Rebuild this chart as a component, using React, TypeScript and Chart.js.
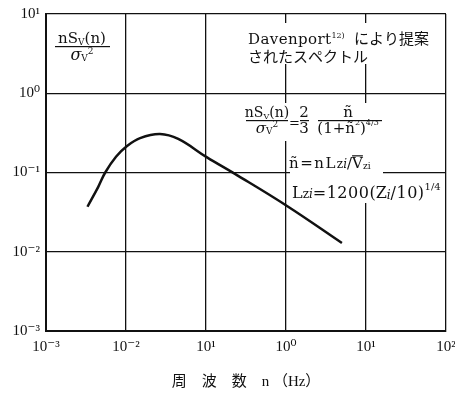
import React, { useEffect, useRef } from "react";
import { Chart, registerables } from "chart.js";

Chart.register(...registerables);

const freqHz = [0.0033, 0.0045, 0.0055, 0.0075, 0.0103, 0.015, 0.0266, 0.045, 0.103, 0.23, 1.03, 5.0];
const spectrum = [0.037, 0.066, 0.1, 0.158, 0.216, 0.272, 0.306, 0.265, 0.155, 0.096, 0.0378, 0.0129];
const xTickValues = [1e-3, 1e-2, 1e-1, 1, 10, 100];
const xTickLabels = ["10⁻³", "10⁻²", "10¹", "10⁰", "10¹", "10²"];
const yTickValues = [1e-3, 1e-2, 1e-1, 1, 10];
const yTickLabels = ["10⁻³", "10⁻²", "10⁻¹", "10⁰", "10¹"];
const xAxisTitle = "周　波　数　n （Hz）";

const SERIF = '"DejaVu Serif", "Liberation Serif", serif';
const CJK = '"Noto Sans CJK JP", sans-serif';

type Part = { t: string; size: number; dy?: number; italic?: boolean; fam?: string; over?: boolean; ls?: number };

function fontOf(p: Part) {
  return `${p.italic ? "italic " : ""}${p.size}px ${p.fam ?? SERIF}`;
}
function partWidth(ctx: CanvasRenderingContext2D, p: Part) {
  ctx.font = fontOf(p);
  const ls = p.ls ?? 0;
  if (!ls) return ctx.measureText(p.t).width;
  let w = 0;
  for (const ch of Array.from(p.t)) w += ctx.measureText(ch).width + ls;
  return w;
}
function measure(ctx: CanvasRenderingContext2D, parts: Part[]) {
  let w = 0;
  for (const p of parts) w += partWidth(ctx, p);
  return w;
}
function drawParts(ctx: CanvasRenderingContext2D, x: number, y: number, parts: Part[]) {
  let cx = x;
  for (const p of parts) {
    ctx.font = fontOf(p);
    const w = partWidth(ctx, p);
    const yy = y + (p.dy ?? 0);
    const ls = p.ls ?? 0;
    if (!ls) ctx.fillText(p.t, cx, yy);
    else {
      let xx = cx;
      for (const ch of Array.from(p.t)) {
        ctx.fillText(ch, xx, yy);
        xx += ctx.measureText(ch).width + ls;
      }
    }
    if (p.over) ctx.fillRect(cx, yy - p.size * 0.85, w, 1.2);
    cx += w;
  }
  return cx;
}
function drawFrac(
  ctx: CanvasRenderingContext2D,
  cx: number,
  yNum: number,
  yLine: number,
  yDen: number,
  num: Part[],
  den: Part[],
  x0: number,
  x1: number
) {
  const wn = measure(ctx, num);
  const wd = measure(ctx, den);
  drawParts(ctx, cx - wn / 2, yNum, num);
  drawParts(ctx, cx - wd / 2, yDen, den);
  ctx.fillRect(x0, yLine, x1 - x0, 1.2);
}

const annotationPlugin = {
  id: "annots",
  beforeDatasetsDraw(chart: any) {
    const ctx: CanvasRenderingContext2D = chart.ctx;
    ctx.save();
    ctx.fillStyle = "#ffffff";
    const boxes = [
      [245, 23, 184, 41],
      [238, 103, 147, 38],
      [290, 141, 93, 40],
      [290, 181, 152, 22],
    ];
    for (const b of boxes) ctx.fillRect(b[0], b[1], b[2], b[3]);
    ctx.restore();
  },
  afterDraw(chart: any) {
    const ctx: CanvasRenderingContext2D = chart.ctx;
    ctx.save();
    ctx.fillStyle = "#111";
    ctx.textBaseline = "alphabetic";
    ctx.textAlign = "left";

    // top-left label
    const numA: Part[] = [
      { t: "nS", size: 15 },
      { t: "V", size: 9, dy: 2 },
      { t: "(n)", size: 15 },
    ];
    const denA: Part[] = [
      { t: "σ", size: 16, italic: true },
      { t: "V", size: 9, dy: 1 },
      { t: "2", size: 9, dy: -6 },
    ];
    drawFrac(ctx, 82, 43, 46, 60, numA, denA, 55, 110);

    // Davenport text
    let x = drawParts(ctx, 248, 44, [{ t: "Davenport", size: 15, ls: 0.4 }]);
    drawParts(ctx, x, 44, [{ t: "12)", size: 8, dy: -6 }]);
    drawParts(ctx, 354, 44, [{ t: "により提案", size: 15, fam: CJK }]);
    drawParts(ctx, 248, 62, [{ t: "されたスペクトル", size: 15, fam: CJK }]);

    // formula
    const numB: Part[] = [
      { t: "nS", size: 14 },
      { t: "V", size: 8, dy: 2 },
      { t: "(n)", size: 14 },
    ];
    drawFrac(ctx, 267, 117, 120, 133, numB, [
      { t: "σ", size: 15, italic: true },
      { t: "V", size: 9, dy: 1 },
      { t: "2", size: 9, dy: -6 },
    ], 246, 288);
    drawParts(ctx, 289, 127, [{ t: "=", size: 13 }]);
    drawFrac(ctx, 304, 117, 120, 133, [{ t: "2", size: 15 }], [{ t: "3", size: 15 }], 300, 309);
    drawFrac(ctx, 348, 117, 120, 133, [{ t: "ñ", size: 15 }], [
      { t: "(1+ñ", size: 15 },
      { t: "2", size: 8, dy: -8 },
      { t: ")", size: 15 },
      { t: "4/3", size: 8, dy: -8 },
    ], 318, 382);

    // ñ = nLzi / Vzi
    drawParts(ctx, 289, 168, [
      { t: "ñ=nL", size: 15, ls: 1.5 },
      { t: "z", size: 12 },
      { t: "i", size: 12, italic: true },
      { t: "/", size: 15 },
      { t: "V", size: 15, over: true },
      { t: "zi", size: 9, dy: 1 },
    ]);
    // Lzi = 1200 (Zi/10)^1/4
    drawParts(ctx, 292, 198, [
      { t: "L", size: 16 },
      { t: "z", size: 12 },
      { t: "i", size: 12, italic: true },
      { t: "=1200", size: 16, ls: 0.5 },
      { t: "(", size: 16 },
      { t: "Z", size: 16 },
      { t: "i", size: 12, italic: true, dy: 1 },
      { t: "/10)", size: 16, ls: 0.5 },
      { t: "1/4", size: 10, dy: -8 },
    ]);
    ctx.restore();
  },
};

export default function App() {
  const ref = useRef<HTMLCanvasElement>(null);
  useEffect(() => {
    if (!ref.current) return;
    const chart = new Chart(ref.current, {
      type: "line",
      data: {
        datasets: [
          {
            data: freqHz.map((f, i) => ({ x: f, y: spectrum[i] })),
            borderColor: "#111",
            borderWidth: 2.5,
            pointRadius: 0,
            tension: 0.4,
            fill: false,
          },
        ],
      },
      options: {
        responsive: false,
        devicePixelRatio: 1,
        animation: false,
        layout: { padding: { top: 14, right: 9, left: 0, bottom: 0 } },
        plugins: { legend: { display: false }, tooltip: { enabled: false } },
        scales: {
          x: {
            type: "logarithmic",
            min: 1e-3,
            max: 1e2,
            afterBuildTicks: (s: any) => {
              s.ticks = xTickValues.map((v) => ({ value: v }));
            },
            afterFit: (s: any) => {
              s.height = 63;
              s.paddingLeft = 0;
              s.paddingRight = 0;
            },
            grid: { color: "#111", lineWidth: 1.3, drawTicks: false },
            border: { color: "#111", width: 2 },
            ticks: {
              autoSkip: false,
              maxRotation: 0,
              padding: 7,
              color: "#111",
              font: { family: '"Liberation Serif", "DejaVu Serif", serif', size: 15 },
              callback: (_v: any, i: number) => xTickLabels[i],
            },
            title: {
              display: true,
              text: xAxisTitle,
              color: "#111",
              font: { family: '"Liberation Serif", "Noto Sans CJK JP", serif', size: 15 },
              padding: { top: 0, bottom: 3 },
            },
          },
          y: {
            type: "logarithmic",
            min: 1e-3,
            max: 1e1,
            afterBuildTicks: (s: any) => {
              s.ticks = yTickValues.map((v) => ({ value: v }));
            },
            afterFit: (s: any) => {
              s.width = 46;
              s.paddingTop = 0;
              s.paddingBottom = 0;
            },
            grid: { color: "#111", lineWidth: 1.3, drawTicks: false },
            border: { color: "#111", width: 2 },
            ticks: {
              autoSkip: false,
              padding: 6,
              color: "#111",
              font: { family: '"Liberation Serif", "DejaVu Serif", serif', size: 15 },
              callback: (_v: any, i: number) => yTickLabels[i],
            },
          },
        },
      },
      plugins: [annotationPlugin],
    } as any);
    return () => chart.destroy();
  }, []);
  return (
    <canvas
      ref={ref}
      width={455}
      height={394}
      style={{ position: "fixed", left: 0, top: 0, width: 455, height: 394, background: "#fff" }}
    />
  );
}
